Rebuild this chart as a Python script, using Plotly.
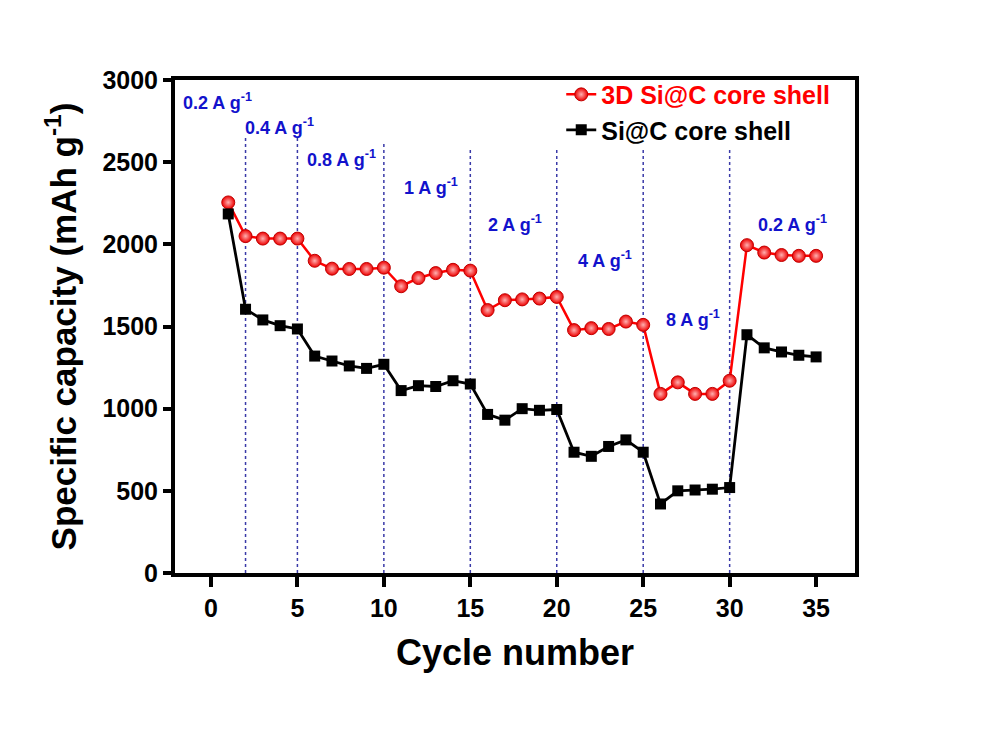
import plotly.graph_objects as go

cycles = list(range(1, 36))
cap_3d = [2255, 2050, 2035, 2035, 2035,
          1900, 1852, 1850, 1850, 1858,
          1745, 1795, 1825, 1845, 1840,
          1600, 1660, 1665, 1670, 1680,
          1478, 1490, 1485, 1530, 1510,
          1090, 1160, 1090, 1090, 1170,
          1995, 1950, 1935, 1930, 1930]
cap_core = [2185, 1605, 1540, 1505, 1485,
            1320, 1290, 1260, 1245, 1270,
            1110, 1140, 1135, 1170, 1150,
            965, 930, 1000, 990, 995,
            735, 710, 770, 810, 735,
            420, 500, 505, 510, 520,
            1450, 1370, 1345, 1325, 1315]

divider_x = [2, 5, 10, 15, 20, 25, 30]
divider_top = [2647, 2647, 2616, 2592, 2592, 2592, 2592]

rate_labels = ["0.2", "0.4", "0.8", "1", "2", "4", "8", "0.2"]
rate_x = [-1.75, 1.85, 5.45, 11.05, 15.92, 21.1, 26.22, 31.5]
rate_y = [2869, 2720, 2525, 2349, 2124, 1905, 1546, 2124]

FONT = "Liberation Sans, Arial, sans-serif"

fig = go.Figure()

for xv, yt in zip(divider_x, divider_top):
    fig.add_shape(type="line", xref="x", yref="y", x0=xv, x1=xv, y0=0, y1=yt,
                  line=dict(color="#3a3aa8", width=1.5, dash="dot"), layer="below")

fig.add_trace(go.Scatter(
    x=cycles, y=cap_3d, mode="lines+markers",
    name="<span style='color:#ff0000'>3D Si@C core shell</span>",
    line=dict(color="#ff0000", width=2.5),
    marker=dict(symbol="circle", size=13, color="#ee0000",
                gradient=dict(type="radial", color="#ffb0b0"),
                line=dict(color="#c00000", width=1)),
))
fig.add_trace(go.Scatter(
    x=cycles, y=cap_core, mode="lines+markers",
    name="Si@C core shell",
    line=dict(color="#000000", width=2.8),
    marker=dict(symbol="square", size=11, color="#000000"),
))

for lab, xv, yv in zip(rate_labels, rate_x, rate_y):
    fig.add_annotation(x=xv, y=yv, xref="x", yref="y",
                       text=f"<b>{lab} A g<sup>-1</sup></b>",
                       showarrow=False, xanchor="left", yanchor="middle",
                       font=dict(family=FONT, size=18, color="#1212cc"))

fig.update_layout(
    width=994, height=746,
    margin=dict(l=175, r=139, t=80, b=173),
    paper_bgcolor="white", plot_bgcolor="white",
    font=dict(family=FONT, color="black"),
    showlegend=True,
    legend=dict(x=0.568, xanchor="left", y=1.017, yanchor="top",
                bgcolor="rgba(0,0,0,0)", borderwidth=0,
                font=dict(family=FONT, size=25, color="black", weight="bold"),
                tracegroupgap=0),
    xaxis=dict(range=[-2.08, 37.25], tickmode="array",
               tickvals=[0, 5, 10, 15, 20, 25, 30, 35],
               ticks="outside", ticklen=10, tickwidth=4, tickcolor="black",
               showline=True, linewidth=4, linecolor="black", mirror=True,
               showgrid=False, zeroline=False,
               tickfont=dict(family=FONT, size=25, color="black", weight="bold"),
               title=dict(text="<b>Cycle number</b>", standoff=20,
                          font=dict(family=FONT, size=36, color="black"))),
    yaxis=dict(range=[0, 3000], tickmode="array",
               tickvals=[0, 500, 1000, 1500, 2000, 2500, 3000],
               ticks="outside", ticklen=8, tickwidth=4, tickcolor="black",
               showline=True, linewidth=4, linecolor="black", mirror=True,
               showgrid=False, zeroline=False,
               tickfont=dict(family=FONT, size=25, color="black", weight="bold"),
               title=dict(text="<b>Specific capacity (mAh g<sup>-1</sup>)</b>", standoff=16,
                          font=dict(family=FONT, size=35, color="black"))),
)

fig.write_html("out.html")
